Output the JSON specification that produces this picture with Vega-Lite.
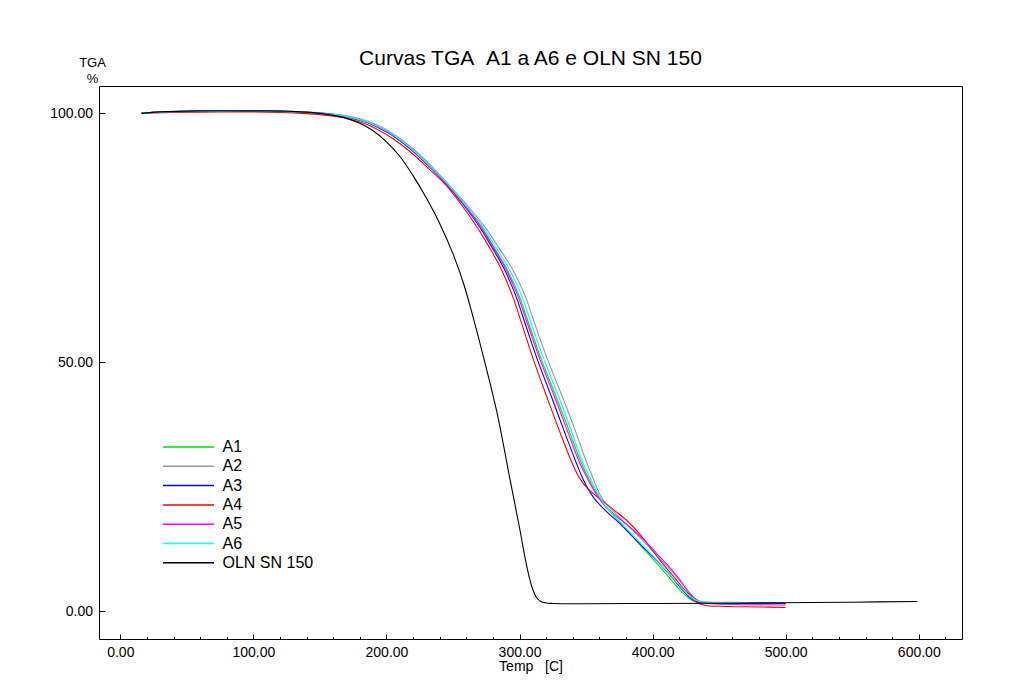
{
  "$schema": "https://vega.github.io/schema/vega-lite/v6.json",
  "width": 863,
  "height": 553,
  "autosize": {"type": "none"},
  "padding": {"left": 99, "top": 86, "right": 71, "bottom": 45},
  "background": "white",
  "title": {"text": "Curvas TGA\u00a0\u00a0A1 a A6 e OLN SN 150", "fontSize": 21, "font": "Liberation Sans", "fontWeight": "normal", "color": "black", "anchor": "middle", "frame": "group", "baseline": "alphabetic", "offset": -29},
  "config": {"font": "Liberation Sans", "view": {"stroke": "black", "strokeWidth": 1}},
  "data": {"values": [
    {"s":"A1","t":16,"w":100.0},{"s":"A1","t":25,"w":100.2},{"s":"A1","t":40,"w":100.35},{"s":"A1","t":60,"w":100.45},{"s":"A1","t":80,"w":100.5},{"s":"A1","t":100,"w":100.5},{"s":"A1","t":120,"w":100.4},{"s":"A1","t":140,"w":100.2},{"s":"A1","t":155,"w":99.9},{"s":"A1","t":170,"w":99.3},{"s":"A1","t":185,"w":98.2},{"s":"A1","t":195,"w":97.0},{"s":"A1","t":205,"w":95.5},{"s":"A1","t":220,"w":92.4},{"s":"A1","t":235,"w":88.6},{"s":"A1","t":245.5,"w":85.8},{"s":"A1","t":259,"w":81.6},{"s":"A1","t":271.5,"w":77.2},{"s":"A1","t":281.5,"w":72.8},{"s":"A1","t":290.8,"w":68.6},{"s":"A1","t":299.5,"w":63.5},{"s":"A1","t":307.3,"w":57.5},{"s":"A1","t":316.5,"w":50.5},{"s":"A1","t":327.5,"w":43.1},{"s":"A1","t":336.8,"w":36.6},{"s":"A1","t":346.4,"w":29.8},{"s":"A1","t":350.2,"w":27.6},{"s":"A1","t":354.5,"w":25.3},{"s":"A1","t":358.9,"w":23.3},{"s":"A1","t":363.9,"w":21.3},{"s":"A1","t":370,"w":19.5},{"s":"A1","t":378,"w":17.2},{"s":"A1","t":385.2,"w":15.0},{"s":"A1","t":392,"w":12.9},{"s":"A1","t":400,"w":10.6},{"s":"A1","t":409,"w":7.9},{"s":"A1","t":416,"w":5.7},{"s":"A1","t":422.7,"w":3.7},{"s":"A1","t":427,"w":2.7},{"s":"A1","t":431.5,"w":2.0},{"s":"A1","t":437,"w":1.75},{"s":"A1","t":445,"w":1.7},{"s":"A1","t":470,"w":1.65},{"s":"A1","t":500,"w":1.65},
    {"s":"A2","t":16,"w":100.0},{"s":"A2","t":25,"w":100.2},{"s":"A2","t":40,"w":100.35},{"s":"A2","t":60,"w":100.45},{"s":"A2","t":80,"w":100.5},{"s":"A2","t":100,"w":100.5},{"s":"A2","t":120,"w":100.4},{"s":"A2","t":140,"w":100.25},{"s":"A2","t":155,"w":100.0},{"s":"A2","t":170,"w":99.5},{"s":"A2","t":185,"w":98.5},{"s":"A2","t":195,"w":97.4},{"s":"A2","t":205,"w":95.9},{"s":"A2","t":220,"w":92.9},{"s":"A2","t":235,"w":89.1},{"s":"A2","t":246.5,"w":85.8},{"s":"A2","t":260.5,"w":81.6},{"s":"A2","t":274,"w":77.2},{"s":"A2","t":285,"w":72.8},{"s":"A2","t":295,"w":68.6},{"s":"A2","t":304,"w":63.5},{"s":"A2","t":311.8,"w":57.5},{"s":"A2","t":321.2,"w":50.5},{"s":"A2","t":332.2,"w":43.1},{"s":"A2","t":341.5,"w":36.6},{"s":"A2","t":350.6,"w":29.8},{"s":"A2","t":354,"w":27.6},{"s":"A2","t":357.5,"w":25.2},{"s":"A2","t":361,"w":23.2},{"s":"A2","t":365,"w":21.6},{"s":"A2","t":371,"w":20.0},{"s":"A2","t":378,"w":18.1},{"s":"A2","t":385,"w":16.3},{"s":"A2","t":392,"w":14.4},{"s":"A2","t":404,"w":11.0},{"s":"A2","t":416,"w":7.6},{"s":"A2","t":422,"w":5.6},{"s":"A2","t":428,"w":3.6},{"s":"A2","t":432,"w":2.6},{"s":"A2","t":436,"w":2.0},{"s":"A2","t":443,"w":1.85},{"s":"A2","t":470,"w":1.8},{"s":"A2","t":500,"w":1.75},
    {"s":"A3","t":16,"w":100.0},{"s":"A3","t":25,"w":100.2},{"s":"A3","t":40,"w":100.35},{"s":"A3","t":60,"w":100.45},{"s":"A3","t":80,"w":100.5},{"s":"A3","t":100,"w":100.5},{"s":"A3","t":120,"w":100.4},{"s":"A3","t":140,"w":100.2},{"s":"A3","t":155,"w":99.9},{"s":"A3","t":170,"w":99.3},{"s":"A3","t":185,"w":98.2},{"s":"A3","t":195,"w":97.0},{"s":"A3","t":205,"w":95.5},{"s":"A3","t":220,"w":92.4},{"s":"A3","t":235,"w":88.6},{"s":"A3","t":245,"w":85.8},{"s":"A3","t":258,"w":81.6},{"s":"A3","t":270,"w":77.2},{"s":"A3","t":280,"w":72.8},{"s":"A3","t":288.8,"w":68.6},{"s":"A3","t":297,"w":63.5},{"s":"A3","t":304.6,"w":57.5},{"s":"A3","t":313.5,"w":50.5},{"s":"A3","t":324,"w":43.1},{"s":"A3","t":333,"w":36.6},{"s":"A3","t":342.7,"w":29.8},{"s":"A3","t":347,"w":27.0},{"s":"A3","t":351.5,"w":24.6},{"s":"A3","t":356.4,"w":22.6},{"s":"A3","t":361.4,"w":21.1},{"s":"A3","t":368,"w":19.4},{"s":"A3","t":375.2,"w":17.7},{"s":"A3","t":386.5,"w":14.6},{"s":"A3","t":400.2,"w":11.0},{"s":"A3","t":411.5,"w":7.8},{"s":"A3","t":418,"w":5.7},{"s":"A3","t":425.3,"w":3.5},{"s":"A3","t":430,"w":2.4},{"s":"A3","t":434,"w":1.95},{"s":"A3","t":440,"w":1.8},{"s":"A3","t":460,"w":1.7},{"s":"A3","t":500,"w":1.65},
    {"s":"A4","t":16,"w":100.0},{"s":"A4","t":25,"w":100.1},{"s":"A4","t":40,"w":100.2},{"s":"A4","t":60,"w":100.25},{"s":"A4","t":80,"w":100.3},{"s":"A4","t":100,"w":100.3},{"s":"A4","t":120,"w":100.2},{"s":"A4","t":140,"w":99.95},{"s":"A4","t":155,"w":99.6},{"s":"A4","t":170,"w":99.0},{"s":"A4","t":185,"w":97.8},{"s":"A4","t":195,"w":96.5},{"s":"A4","t":205,"w":94.9},{"s":"A4","t":220,"w":91.8},{"s":"A4","t":235,"w":88.1},{"s":"A4","t":244,"w":85.8},{"s":"A4","t":256.5,"w":81.6},{"s":"A4","t":268,"w":77.2},{"s":"A4","t":278,"w":72.8},{"s":"A4","t":286.5,"w":68.6},{"s":"A4","t":294.5,"w":63.5},{"s":"A4","t":302,"w":57.5},{"s":"A4","t":310.5,"w":50.5},{"s":"A4","t":320.5,"w":43.1},{"s":"A4","t":329.5,"w":36.6},{"s":"A4","t":339.5,"w":29.8},{"s":"A4","t":344,"w":27.3},{"s":"A4","t":348.5,"w":25.5},{"s":"A4","t":352.7,"w":24.3},{"s":"A4","t":357.5,"w":23.2},{"s":"A4","t":362.7,"w":22.1},{"s":"A4","t":372.7,"w":20.0},{"s":"A4","t":382,"w":17.9},{"s":"A4","t":390,"w":15.6},{"s":"A4","t":397,"w":13.3},{"s":"A4","t":405.2,"w":10.4},{"s":"A4","t":411,"w":8.5},{"s":"A4","t":416.5,"w":6.8},{"s":"A4","t":422,"w":5.0},{"s":"A4","t":427.8,"w":3.3},{"s":"A4","t":432,"w":2.1},{"s":"A4","t":436,"w":1.5},{"s":"A4","t":441,"w":1.15},{"s":"A4","t":455,"w":1.0},{"s":"A4","t":480,"w":0.9},{"s":"A4","t":500,"w":0.8},
    {"s":"A5","t":16,"w":100.0},{"s":"A5","t":25,"w":100.2},{"s":"A5","t":40,"w":100.35},{"s":"A5","t":60,"w":100.45},{"s":"A5","t":80,"w":100.5},{"s":"A5","t":100,"w":100.5},{"s":"A5","t":120,"w":100.4},{"s":"A5","t":140,"w":100.2},{"s":"A5","t":155,"w":99.9},{"s":"A5","t":170,"w":99.35},{"s":"A5","t":185,"w":98.3},{"s":"A5","t":195,"w":97.1},{"s":"A5","t":205,"w":95.6},{"s":"A5","t":220,"w":92.5},{"s":"A5","t":235,"w":88.7},{"s":"A5","t":245.5,"w":85.8},{"s":"A5","t":258.5,"w":81.6},{"s":"A5","t":271,"w":77.2},{"s":"A5","t":281,"w":72.8},{"s":"A5","t":290,"w":68.6},{"s":"A5","t":298.5,"w":63.5},{"s":"A5","t":306.3,"w":57.5},{"s":"A5","t":315.5,"w":50.5},{"s":"A5","t":326.3,"w":43.1},{"s":"A5","t":335.5,"w":36.6},{"s":"A5","t":345.2,"w":29.8},{"s":"A5","t":349.5,"w":27.5},{"s":"A5","t":354,"w":25.2},{"s":"A5","t":358.5,"w":23.2},{"s":"A5","t":363.9,"w":21.3},{"s":"A5","t":370,"w":19.8},{"s":"A5","t":378,"w":18.0},{"s":"A5","t":386,"w":16.2},{"s":"A5","t":394,"w":14.2},{"s":"A5","t":405,"w":11.1},{"s":"A5","t":416.5,"w":7.7},{"s":"A5","t":422,"w":5.8},{"s":"A5","t":427.8,"w":3.7},{"s":"A5","t":432,"w":2.5},{"s":"A5","t":436,"w":1.9},{"s":"A5","t":442,"w":1.6},{"s":"A5","t":460,"w":1.4},{"s":"A5","t":500,"w":1.3},
    {"s":"A6","t":16,"w":100.0},{"s":"A6","t":25,"w":100.2},{"s":"A6","t":40,"w":100.35},{"s":"A6","t":60,"w":100.45},{"s":"A6","t":80,"w":100.5},{"s":"A6","t":100,"w":100.5},{"s":"A6","t":120,"w":100.4},{"s":"A6","t":140,"w":100.2},{"s":"A6","t":155,"w":99.95},{"s":"A6","t":170,"w":99.4},{"s":"A6","t":185,"w":98.35},{"s":"A6","t":195,"w":97.2},{"s":"A6","t":205,"w":95.7},{"s":"A6","t":220,"w":92.6},{"s":"A6","t":235,"w":88.8},{"s":"A6","t":246,"w":85.8},{"s":"A6","t":259.5,"w":81.6},{"s":"A6","t":272.5,"w":77.2},{"s":"A6","t":283,"w":72.8},{"s":"A6","t":292.5,"w":68.6},{"s":"A6","t":301.5,"w":63.5},{"s":"A6","t":309.2,"w":57.5},{"s":"A6","t":318.5,"w":50.5},{"s":"A6","t":329.5,"w":43.1},{"s":"A6","t":338.5,"w":36.6},{"s":"A6","t":347.6,"w":29.8},{"s":"A6","t":351.5,"w":27.6},{"s":"A6","t":355.5,"w":25.4},{"s":"A6","t":359.5,"w":23.4},{"s":"A6","t":363.5,"w":21.6},{"s":"A6","t":370,"w":19.6},{"s":"A6","t":378,"w":17.3},{"s":"A6","t":388.2,"w":14.5},{"s":"A6","t":400,"w":11.2},{"s":"A6","t":412,"w":7.7},{"s":"A6","t":418.5,"w":5.7},{"s":"A6","t":425.3,"w":3.7},{"s":"A6","t":430,"w":2.6},{"s":"A6","t":435.5,"w":2.0},{"s":"A6","t":442,"w":1.85},{"s":"A6","t":470,"w":1.8},{"s":"A6","t":500,"w":1.8},
    {"s":"OLN SN 150","t":16,"w":100.0},{"s":"OLN SN 150","t":30,"w":100.3},{"s":"OLN SN 150","t":60,"w":100.5},{"s":"OLN SN 150","t":100,"w":100.5},{"s":"OLN SN 150","t":125,"w":100.45},{"s":"OLN SN 150","t":150,"w":100.0},{"s":"OLN SN 150","t":160,"w":99.6},{"s":"OLN SN 150","t":170,"w":99.0},{"s":"OLN SN 150","t":180,"w":98.0},{"s":"OLN SN 150","t":190,"w":96.5},{"s":"OLN SN 150","t":200,"w":94.3},{"s":"OLN SN 150","t":210,"w":91.4},{"s":"OLN SN 150","t":220,"w":87.5},{"s":"OLN SN 150","t":230,"w":83.0},{"s":"OLN SN 150","t":240,"w":77.9},{"s":"OLN SN 150","t":250,"w":71.8},{"s":"OLN SN 150","t":258,"w":65.8},{"s":"OLN SN 150","t":265,"w":59.2},{"s":"OLN SN 150","t":273,"w":51.0},{"s":"OLN SN 150","t":283,"w":40.0},{"s":"OLN SN 150","t":293,"w":26.3},{"s":"OLN SN 150","t":300,"w":16.8},{"s":"OLN SN 150","t":304,"w":11.0},{"s":"OLN SN 150","t":307,"w":7.2},{"s":"OLN SN 150","t":310,"w":4.4},{"s":"OLN SN 150","t":313,"w":2.7},{"s":"OLN SN 150","t":316,"w":2.0},{"s":"OLN SN 150","t":320,"w":1.7},{"s":"OLN SN 150","t":325,"w":1.6},{"s":"OLN SN 150","t":350,"w":1.55},{"s":"OLN SN 150","t":400,"w":1.6},{"s":"OLN SN 150","t":450,"w":1.65},{"s":"OLN SN 150","t":500,"w":1.75},{"s":"OLN SN 150","t":550,"w":1.85},{"s":"OLN SN 150","t":599,"w":2.0}
  ]},
  "mark": {"type": "line", "strokeWidth": 1.1, "interpolate": "catmull-rom"},
  "encoding": {
    "x": {
      "field": "t", "type": "quantitative",
      "scale": {"domain": [-16, 632.5], "nice": false, "zero": false},
      "axis": {
        "values": [0,20,40,60,80,100,120,140,160,180,200,220,240,260,280,300,320,340,360,380,400,420,440,460,480,500,520,540,560,580,600,620],
        "labelExpr": "datum.value % 100 === 0 ? format(datum.value, '.2f') : ''",
        "labelOverlap": false, "labelFlush": false,
        "tickSize": {"condition": {"test": "datum.value % 100 === 0", "value": -5}, "value": -2.5},
        "tickColor": "black", "domain": false, "grid": false,
        "labelFontSize": 14, "labelColor": "black", "labelPadding": 11, "labelBaseline": "top",
        "title": "Temp\u00a0\u00a0\u00a0[C]", "titleFontSize": 14, "titleFontWeight": "normal", "titleColor": "black",
        "titleY": 31, "titleBaseline": "alphabetic"
      }
    },
    "y": {
      "field": "w", "type": "quantitative",
      "scale": {"domain": [-5.54, 105.5], "nice": false, "zero": false},
      "axis": {
        "values": [0, 50, 100], "format": ".2f",
        "tickSize": -6, "tickColor": "black", "domain": false, "grid": false,
        "labelFontSize": 14, "labelColor": "black", "labelPadding": 12.5,
        "title": ["TGA", "%"], "titleAngle": 0, "titleAlign": "center", "titleBaseline": "alphabetic",
        "titleX": -7, "titleY": -19.3, "titleFontSize": 13, "titleLineHeight": 16,
        "titleFontWeight": "normal", "titleColor": "black"
      }
    },
    "color": {
      "field": "s", "type": "nominal",
      "scale": {"domain": ["A1","A2","A3","A4","A5","A6","OLN SN 150"], "range": ["#00e000","#999999","#0000ff","#ff0000","#ff00ff","#00ffff","#000000"]},
      "legend": {
        "orient": "none", "legendX": 63, "legendY": 353, "title": null, "padding": 0,
        "symbolType": "stroke", "symbolSize": 2601, "symbolStrokeWidth": 1.5, "clipHeight": 16,
        "labelFontSize": 16, "labelOffset": 7.5, "rowPadding": 3.3, "labelColor": "black"
      }
    }
  }
}
